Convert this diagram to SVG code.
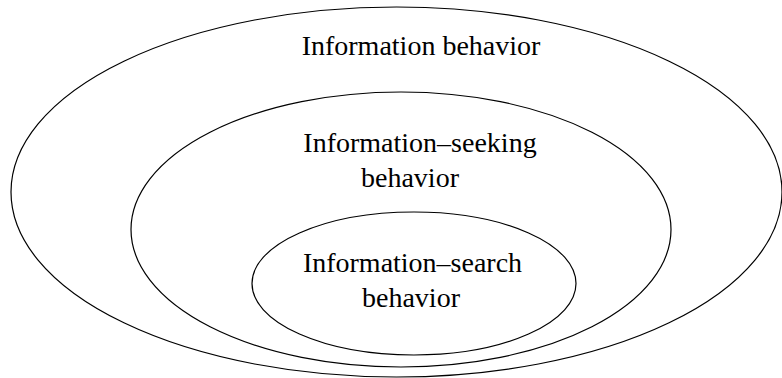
<svg xmlns="http://www.w3.org/2000/svg" width="782" height="378" viewBox="0 0 782 378">
<style>
.e{fill:none;stroke:#000;stroke-width:1.2}
.t{font-family:"Liberation Serif","Times New Roman",serif;font-size:28px;fill:#000;text-anchor:middle}
</style>
<rect width="782" height="378" fill="#fff"/>
<g id="outer">
<ellipse class="e" cx="396.5" cy="192" rx="385.5" ry="185"/>
<text class="t" x="421" y="55">Information behavior</text>
</g>
<g id="middle">
<ellipse class="e" cx="401" cy="229.5" rx="270" ry="137.5"/>
<text class="t" x="420" y="152">Information–seeking</text>
<text class="t" x="410" y="187">behavior</text>
</g>
<g id="inner">
<ellipse class="e" cx="414" cy="283.5" rx="162" ry="71.5"/>
<text class="t" x="412.5" y="272">Information–search</text>
<text class="t" x="411" y="307">behavior</text>
</g>
<g id="connectors"/>
</svg>
